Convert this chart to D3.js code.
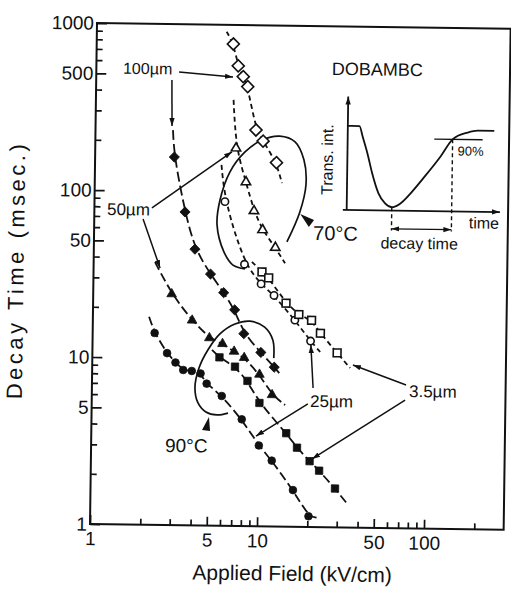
<!DOCTYPE html>
<html><head><meta charset="utf-8">
<script src="https://cdn.jsdelivr.net/npm/d3@7"></script>
<style>
body{margin:0;background:#fff}
svg text{font-family:"Liberation Sans",Arial,Helvetica,sans-serif;fill:#111}
</style>
</head><body>
<svg id="c" width="511" height="589"></svg>
<script>
// ---------- data ----------
const xTickLabels = [1, 5, 10, 50, 100];
const yTickLabels = [1, 5, 10, 50, 100, 500, 1000];

// 70°C, open symbols
const open100um = [[6.58,769],[7.07,569],[7.59,491],[8.09,428],[9.14,236],[10.1,203],[12.2,151]];
const open100umLine = [[5.99,910],[13.2,114]];
const open50um = [[6.96,183],[8.04,115],[9.03,77.3],[10.2,59.6],[12.2,46.8]];
const open50umLine = [[6.67,356],[14.0,37.8]];
const open25um = [[6.04,87.4],[8.0,37.0],[10.1,28.3],[12.1,24.2],[16.2,17.3],[20.2,13.0]];
const open25umLine = [[5.72,145],[23.1,11.2]];
const open3p5um = [[10.2,33.4],[11.2,30.8],[14.3,21.8],[17.1,18.7],[20.4,17.3],[23.1,14.5],[29.2,11.1]];
const open3p5umLine = [[8.87,38.3],[35.0,9.03]];

// 90°C, filled symbols
const fill100um = [[2.98,160],[3.49,75.2],[4.03,45.1],[5.02,32.1],[6.04,24.9],[7.05,19.7],[8.04,14.2],[10.2,11.0],[12.3,9.0]];
const fill100umLine = [[2.91,232],[13.2,8.31]];
const fill50um = [[2.95,24.2],[3.93,16.9],[5.0,13.3],[6.0,12.3],[7.05,11.1],[8.11,10.2],[10.05,8.12],[12.0,6.14]];
const fill50umLine = [[2.33,37.5],[14.4,5.35]];
const fill3p5um = [[5.77,10.2],[7.16,9.0],[8.53,7.41],[10.1,5.48],[14.7,3.63],[17.1,2.98],[20.4,2.48],[23.3,2.18],[29.1,1.71]];
const fill3p5umLine = [[5.20,11.3],[34.9,1.37]];
const fill25um = [[2.35,14.1],[2.80,10.7],[3.15,9.42],[3.51,8.51],[3.95,8.41],[4.46,8.14],[4.86,7.08],[6.0,5.99],[7.94,4.36],[10.1,3.05],[12.1,2.48],[16.3,1.66],[20.3,1.16]];
const fill25umLine = [[2.17,17.6],[22.7,1.14]];

// group outlines (data units)
const loop70C = [[8.07,34.7],[6.83,36.5],[6.02,43.6],[5.44,63.3],[5.64,89.3],[6.44,132],[7.89,174],[9.95,206],[12.7,218],[15.7,202],[17.8,158],[18.4,112],[17.0,76.9],[14.3,50.7]];
const loop90C = [[12.2,10.2],[12.0,13.1],[10.7,15.6],[8.73,16.9],[7.10,16.2],[5.78,14.1],[4.92,11.3],[4.36,8.77],[4.14,6.66],[4.33,5.42],[4.84,4.79],[5.64,4.61],[6.56,4.74]];
const wedge70C = [[17.1,74.8],[20.7,69.0],[19.3,62.7]];
const wedge90C = [[5.05,4.48],[4.60,3.74],[5.14,3.69]];

// leader arrows [from, to] (data units)
const leaders = [
  [[3.13,517],[6.59,488]],
  [[2.84,463],[2.87,245]],
  [[2.21,79.0],[6.59,174]],
  [[1.96,67.7],[2.50,34.6]],
  [[21.1,6.81],[20.3,12.3]],
  [[19.7,5.46],[9.7,3.47]],
  [[76.0,7.22],[36.4,9.42]],
  [[75.2,5.87],[21.1,2.56]]
];
const labelText = ["100µm","50µm","70°C","90°C","25µm","3.5µm","DOBAMBC"];
const labelPos  = [[1.445,499],[1.19,71.1],[20.5,52.4],[2.77,2.74],[20.3,5.24],[79.3,6.13],[25.7,512]];
const labelSize = [16,17,20,19,17,17,18];

// inset (schematic): time 0..10, intensity 0..1
const insetAnchor = [[32.4,79.8],[268,317]];   // (t=0,I=0) and (t=10,I=1) in main data units
const insetCurve = [[0,0.84],[0.76,0.84],[0.98,0.733],[1.30,0.57],[1.63,0.37],[2.06,0.17],[2.50,0.07],[2.94,0.033],[3.48,0.07],[4.13,0.17],[5.0,0.333],[6.09,0.55],[6.85,0.72],[7.83,0.79],[8.48,0.81],[9.56,0.81]];
const insetLevel90 = [[5.65,0.72],[8.81,0.72]];
const insetDecayStart = [[2.94,0.033],[2.94,-0.2]];
const insetDecayEnd = [[6.85,0.72],[6.85,-0.2]];
const insetDecayArrow = [[2.94,-0.183],[6.85,-0.183]];

// ---------- drawing ----------
const ink = "#111";
const svg = d3.select("#c");
const W = 167 * Math.log10(300), H = 501;

const defs = svg.append("defs");
defs.append("marker").attr("id","arr").attr("viewBox","0 -5 10 10")
  .attr("refX",10).attr("refY",0).attr("markerWidth",8).attr("markerHeight",8)
  .attr("markerUnits","userSpaceOnUse").attr("orient","auto-start-reverse")
  .append("path").attr("d","M0,-3.3L10,0L0,3.3Z").attr("fill",ink);

const g = svg.append("g").attr("transform","translate(90,524) rotate(0.8)");
const x = d3.scaleLog().domain([1,300]).range([0,W]);
const y = d3.scaleLog().domain([1,1000]).range([0,-H]);

// frame
g.append("rect").attr("x",0).attr("y",-H).attr("width",W).attr("height",H)
  .attr("fill","none").attr("stroke",ink).attr("stroke-width",2);

function styleAxis(a, fs){
  a.select(".domain").remove();
  a.attr("font-size",fs).attr("font-family",null);
  a.selectAll("line").attr("stroke",ink).attr("stroke-width",1.7);
  a.selectAll("text").attr("fill",ink);
}
const yMinor = y.ticks().filter(d => !yTickLabels.includes(d));
const xMinor = x.ticks().filter(d => !xTickLabels.includes(d) && d < 300);
styleAxis(g.append("g").call(d3.axisLeft(y).tickValues(yTickLabels).tickFormat(d=>d).tickSize(-10).tickPadding(3)), 19);
styleAxis(g.append("g").call(d3.axisLeft(y).tickValues(yMinor).tickFormat("").tickSize(-6)), 19);
styleAxis(g.append("g").call(d3.axisBottom(x).tickValues(xTickLabels).tickFormat(d=>d).tickSize(-9).tickPadding(7.5)), 19);
styleAxis(g.append("g").call(d3.axisBottom(x).tickValues(xMinor).tickFormat("").tickSize(-6)), 19);

// axis titles
g.append("text").attr("x",W/2-4).attr("y",54).attr("text-anchor","middle")
  .attr("font-size",21).text("Applied Field (kV/cm)");
g.append("text").attr("transform","translate(-70,-253) rotate(-90)").attr("text-anchor","middle")
  .attr("font-size",22).attr("letter-spacing",3.5).text("Decay Time (msec.)");

// group loops
const smooth = d3.line().x(d=>x(d[0])).y(d=>y(d[1])).curve(d3.curveCatmullRom.alpha(0.5));
[loop70C, loop90C].forEach(l => g.append("path").datum(l).attr("d",smooth)
  .attr("fill","none").attr("stroke",ink).attr("stroke-width",1.7));
const poly = d3.line().x(d=>x(d[0])).y(d=>y(d[1]));
[wedge70C, wedge90C].forEach(w => g.append("path").datum(w).attr("d", d => poly(d)+"Z").attr("fill",ink));

// series
const fit = d3.line().x(d=>x(d[0])).y(d=>y(d[1])).curve(d3.curveBasis);
const series = [
  {pts:open100um, ends:open100umLine, type:d3.symbolSquare, size:72, rot:45, filled:false, dash:"5,3.5"},
  {pts:open50um,  ends:open50umLine,  type:d3.symbolTriangle, size:38, rot:0, filled:false, dash:"5,3.5"},
  {pts:open25um,  ends:open25umLine,  type:d3.symbolCircle, size:42, rot:0, filled:false, dash:"5,3.5"},
  {pts:open3p5um, ends:open3p5umLine, type:d3.symbolSquare, size:60, rot:0, filled:false, dash:"5,3.5"},
  {pts:fill100um, ends:fill100umLine, type:d3.symbolSquare, size:52, rot:45, filled:true, dash:"10,4"},
  {pts:fill50um,  ends:fill50umLine,  type:d3.symbolTriangle, size:40, rot:0, filled:true, dash:"9,4"},
  {pts:fill3p5um, ends:fill3p5umLine, type:d3.symbolSquare, size:54, rot:0, filled:true, dash:"9,4"},
  {pts:fill25um,  ends:fill25umLine,  type:d3.symbolCircle, size:46, rot:0, filled:true, dash:"9,4"}
];
series.forEach(s => {
  g.append("path").datum([s.ends[0], ...s.pts, s.ends[1]]).attr("d", fit)
    .attr("fill","none").attr("stroke",ink).attr("stroke-width",1.8).attr("stroke-dasharray",s.dash);
});
series.forEach(s => {
  g.append("g").selectAll("path").data(s.pts).join("path")
    .attr("d", d3.symbol().type(s.type).size(s.size))
    .attr("transform", d => `translate(${x(d[0])},${y(d[1])}) rotate(${s.rot})`)
    .attr("fill", s.filled ? ink : "#fff").attr("stroke", ink)
    .attr("stroke-width", s.filled ? 0.8 : 1.6);
});

// leaders and labels
leaders.forEach(a => g.append("line")
  .attr("x1",x(a[0][0])).attr("y1",y(a[0][1])).attr("x2",x(a[1][0])).attr("y2",y(a[1][1]))
  .attr("stroke",ink).attr("stroke-width",1.5).attr("marker-end","url(#arr)"));
labelText.forEach((t,i) => g.append("text").attr("x",x(labelPos[i][0])).attr("y",y(labelPos[i][1]))
  .attr("font-size",labelSize[i]).text(t));

// inset
const ix = d3.scaleLinear().domain([0,10]).range([x(insetAnchor[0][0]), x(insetAnchor[1][0])]);
const iy = d3.scaleLinear().domain([0,1]).range([y(insetAnchor[0][1]), y(insetAnchor[1][1])]);
const il = d3.line().x(d=>ix(d[0])).y(d=>iy(d[1]));
const inset = g.append("g");
inset.append("path").datum([[-0.25,0],[10,0]]).attr("d",il).attr("stroke",ink).attr("stroke-width",1.8).attr("marker-end","url(#arr)");
inset.append("path").datum([[0,0],[0,1.133]]).attr("d",il).attr("stroke",ink).attr("stroke-width",1.8).attr("marker-end","url(#arr)");
inset.append("path").datum(insetCurve).attr("d", il.curve(d3.curveMonotoneX)).attr("fill","none").attr("stroke",ink).attr("stroke-width",1.8);
il.curve(d3.curveLinear);
inset.append("path").datum(insetLevel90).attr("d",il).attr("stroke",ink).attr("stroke-width",1.4);
[insetDecayStart, insetDecayEnd].forEach(d => inset.append("path").datum(d).attr("d",il)
  .attr("stroke",ink).attr("stroke-width",1.4).attr("stroke-dasharray","4,3"));
inset.append("path").datum(insetDecayArrow).attr("d",il).attr("stroke",ink).attr("stroke-width",1.3)
  .attr("marker-start","url(#arr)").attr("marker-end","url(#arr)");
inset.append("text").attr("transform",`translate(${ix(-0.95)},${iy(0.5)}) rotate(-90)`)
  .attr("text-anchor","middle").attr("font-size",16).text("Trans. int.");
inset.append("text").attr("x",ix(2.24)).attr("y",iy(-0.38)).attr("font-size",16).text("decay time");
inset.append("text").attr("x",ix(7.98)).attr("y",iy(-0.167)).attr("font-size",16).text("time");
inset.append("text").attr("x",ix(7.18)).attr("y",iy(0.56)).attr("font-size",13).text("90%");
</script>
</body></html>
